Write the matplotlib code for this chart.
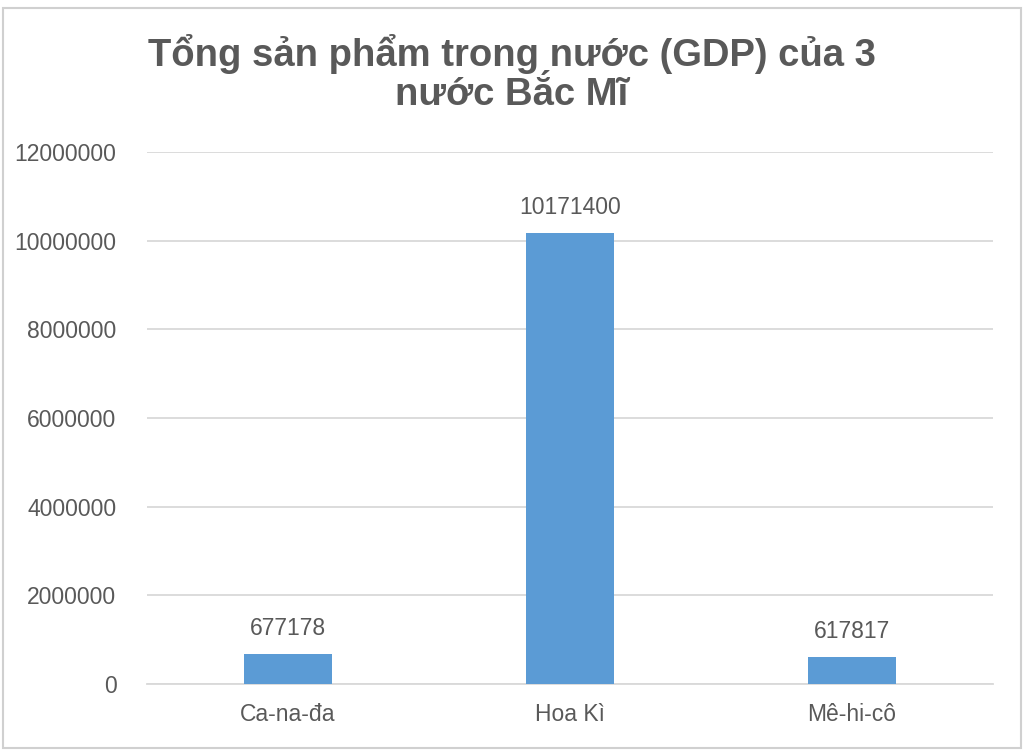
import matplotlib.pyplot as plt
from matplotlib.patches import Rectangle

# du lieu GDP
countries = ["Ca-na-đa", "Hoa Kì", "Mê-hi-cô"]
gdp = [677178, 10171400, 617817]
yticks = [0, 2000000, 4000000, 6000000, 8000000, 10000000, 12000000]

plt.rcParams['font.family'] = ['Liberation Sans', 'DejaVu Sans']
text_color = "#595959"

fig = plt.figure(figsize=(10.24, 7.51), dpi=100)
ax = fig.add_axes([0.1436, 0.0892, 0.826, 0.7084])

x = range(len(countries))
bars = ax.bar(x, gdp, width=0.31, color="#5B9BD5", zorder=3)
for b, v in zip(bars, gdp):
    ax.annotate(str(v), (b.get_x() + b.get_width() / 2, v), xytext=(0, 10),
                textcoords="offset points", ha="center", va="bottom",
                fontsize=16.5, color=text_color)

ax.set_xlim(-0.5, 2.5)
ax.set_ylim(0, 12000000)
ax.set_yticks(yticks)
ax.set_yticklabels([str(t) for t in yticks])
ax.set_xticks(list(x))
ax.set_xticklabels(countries)
ax.tick_params(axis="both", length=0, labelsize=16.5, colors=text_color)
ax.tick_params(axis="y", pad=22)
ax.tick_params(axis="x", pad=14)
ax.grid(axis="y", color="#D9D9D9", linewidth=1.3, zorder=0)
for s in ["top", "right", "left"]:
    ax.spines[s].set_visible(False)
ax.spines["bottom"].set_color("#D9D9D9")
ax.spines["bottom"].set_linewidth(1.3)

fig.text(0.5, 0.902, "Tổng sản phẩm trong nước (GDP) của 3\nnước Bắc Mĩ",
         ha="center", va="center", fontsize=27.5, fontweight="bold",
         color=text_color, linespacing=1.1)

# khung bieu do
fig.patches.append(Rectangle((0.003, 0.004), 0.994, 0.985, transform=fig.transFigure,
                             fill=False, edgecolor="#D0D0D0", linewidth=1.5))

fig.savefig("out.png", dpi=100)
